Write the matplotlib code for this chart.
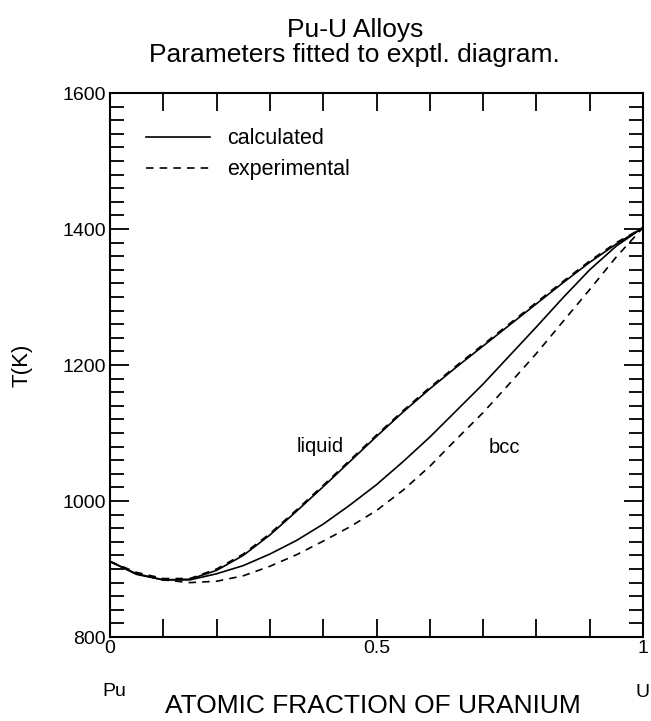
import matplotlib
matplotlib.use("Agg")
import matplotlib.pyplot as plt
from matplotlib.ticker import MultipleLocator

plt.rcParams['font.family'] = ['Liberation Sans', 'DejaVu Sans']

# composition (atomic fraction U) and temperatures in K
x = [0.0, 0.05, 0.10, 0.15, 0.20, 0.25, 0.30, 0.35, 0.40, 0.45, 0.50,
     0.55, 0.60, 0.65, 0.70, 0.75, 0.80, 0.85, 0.90, 0.95, 1.0]

liq_calc = [911, 893, 884, 885, 898, 920, 950, 985, 1021, 1058, 1095,
            1131, 1165, 1197, 1228, 1259, 1290, 1321, 1351, 1378, 1402]
liq_exp = [911, 895, 886, 886, 900, 922, 952, 987, 1023, 1060, 1097,
           1133, 1167, 1199, 1230, 1261, 1292, 1323, 1353, 1380, 1402]
bcc_calc = [911, 892, 884, 884, 893, 905, 922, 942, 966, 994, 1024,
            1058, 1094, 1133, 1172, 1214, 1256, 1299, 1340, 1375, 1402]
bcc_exp = [911, 893, 884, 880, 882, 890, 904, 921, 941, 962, 986,
           1016, 1051, 1091, 1130, 1173, 1217, 1264, 1311, 1359, 1402]

fig = plt.figure(figsize=(6.51, 7.21), dpi=100)
ax = fig.add_axes([0.169, 0.1165, 0.8187, 0.7545])

dash = (0, (4.5, 3.7))
lw = 1.2
ax.plot(x, liq_calc, color='black', lw=lw, label='calculated')
ax.plot(x, liq_exp, color='black', lw=lw, linestyle=dash, label='experimental')
ax.plot(x, bcc_calc, color='black', lw=lw)
ax.plot(x, bcc_exp, color='black', lw=lw, linestyle=dash)

ax.set_xlim(0, 1)
ax.set_ylim(800, 1600)
ax.set_xticks([0, 0.5, 1])
ax.set_xticklabels(['0', '0.5', '1'])
ax.xaxis.set_minor_locator(MultipleLocator(0.1))
ax.set_yticks([800, 1000, 1200, 1400, 1600])
ax.yaxis.set_minor_locator(MultipleLocator(20))
ax.tick_params(which='both', direction='in', top=True, right=True,
               width=1.3, labelsize=14, pad=3)
ax.tick_params(axis='y', which='major', length=14)
ax.tick_params(axis='y', which='minor', length=10)
ax.tick_params(axis='x', which='both', length=13, pad=2)
for s in ax.spines.values():
    s.set_linewidth(1.5)

ax.set_ylabel('T(K)', fontsize=16)
ax.yaxis.set_label_coords(-0.145, 0.5)
ax.set_xlabel('ATOMIC FRACTION OF URANIUM', fontsize=19)
ax.xaxis.set_label_coords(0.493, -0.105)

ax.text(0.350, 1072, 'liquid', fontsize=14.5, ha='left', va='baseline')
ax.text(0.710, 1070, 'bcc', fontsize=14.5, ha='left', va='baseline')

# end-member names under the axis
ax.text(-0.015, -0.10, 'Pu', fontsize=14, ha='left', va='center',
        transform=ax.transAxes)
ax.text(1.013, -0.102, 'U', fontsize=14, ha='right', va='center',
        transform=ax.transAxes)

fig.text(0.545, 0.948, 'Pu-U Alloys', fontsize=19, ha='center', va='baseline')
fig.text(0.545, 0.914, 'Parameters fitted to exptl. diagram.', fontsize=19,
         ha='center', va='baseline')

ax.legend(loc='upper left', bbox_to_anchor=(0.068, 0.935), frameon=False,
          fontsize=15.5, handlelength=2.95, handletextpad=0.8,
          labelspacing=0.45, borderpad=0, borderaxespad=0)

fig.savefig('out.png', dpi=100)
